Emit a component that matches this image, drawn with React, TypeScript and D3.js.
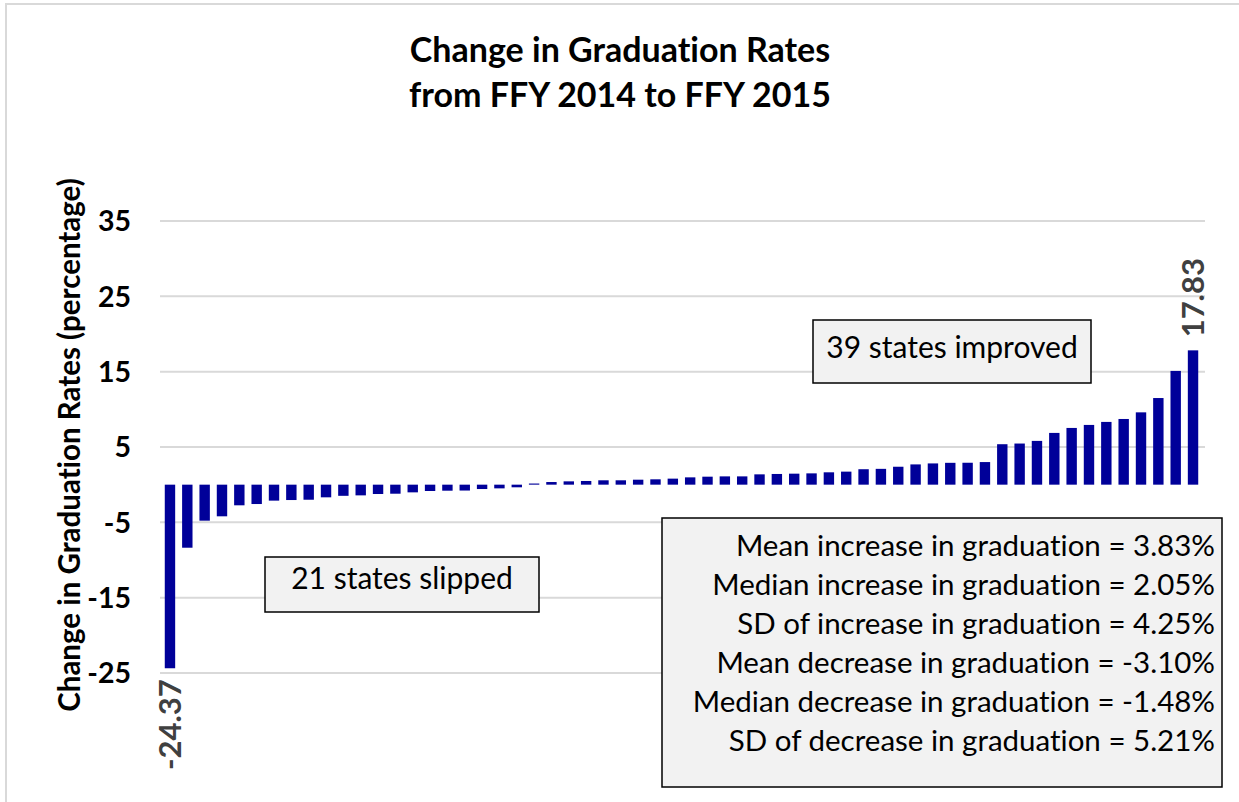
import React, { useEffect } from "react";
import * as d3 from "d3";

const slipped = [
  -24.37, -8.37, -4.78, -4.2, -2.74, -2.57, -2.12, -2.04, -2.0, -1.68, -1.48,
  -1.42, -1.24, -1.2, -1.02, -0.84, -0.8, -0.78, -0.58, -0.49, -0.35,
];
const improved = [
  0.15, 0.35, 0.44, 0.49, 0.58, 0.58, 0.66, 0.71, 0.8, 0.97, 1.06, 1.1, 1.1,
  1.37, 1.42, 1.46, 1.5, 1.64, 1.73, 2.05, 2.1, 2.38, 2.69, 2.82, 2.9, 2.91,
  3.0, 5.37, 5.46, 5.81, 6.87, 7.53, 7.93, 8.33, 8.72, 9.6, 11.5, 15.1, 17.83,
];
const values = [...slipped, ...improved];
const yTicks = [-25, -15, -5, 5, 15, 25, 35];
const titleLines = ["Change in Graduation Rates", "from FFY 2014 to FFY 2015"];
const yAxisTitle = "Change in Graduation Rates (percentage)";
const improvedLabel = "39 states improved";
const slippedLabel = "21 states slipped";
const statLines = [
  "Mean increase in graduation = 3.83%",
  "Median increase in graduation = 2.05%",
  "SD of increase in graduation = 4.25%",
  "Mean decrease in graduation = -3.10%",
  "Median decrease in graduation = -1.48%",
  "SD of decrease in graduation = 5.21%",
];
const labelled = [0, values.length - 1];

const W = 1239;
const H = 802;
const FONT = "Lato, 'Open Sans', sans-serif";

export default function App() {
  useEffect(() => {
    document.body.style.margin = "0";
  }, []);

  const x = d3
    .scaleBand<number>()
    .domain(values.map((_, i) => i))
    .range([161.3, 1201.7])
    .paddingInner(0.4)
    .paddingOuter(0.2);
  const y = d3.scaleLinear().domain([-25, 35]).range([673, 221]);

  return (
    <svg
      width={W}
      height={H}
      style={{ display: "block", fontVariantLigatures: "none" }}
      fontFamily={FONT}
    >
      <rect x={0} y={0} width={W} height={H} fill="#fff" />
      <rect x={6} y={4} width={W + 10} height={H + 10} fill="none" stroke="#d9d9d9" strokeWidth={2} />
      {/* title */}
      <text x={620} textAnchor="middle" fontWeight="bold" fontSize={34} fill="#000">
        <tspan x={620} y={62}>{titleLines[0]}</tspan>
        <tspan x={620} y={107}>{titleLines[1]}</tspan>
      </text>
      {/* gridlines */}
      {yTicks.map((t) => (
        <line key={t} x1={160} x2={1205} y1={y(t)} y2={y(t)} stroke="#d9d9d9" strokeWidth={2} />
      ))}
      {/* y tick labels */}
      {yTicks.map((t) => (
        <text key={t} x={131} y={y(t)} dy="0.36em" textAnchor="end" fontWeight="bold" fontSize={28.5} fill="#000">
          {t}
        </text>
      ))}
      {/* y axis title */}
      <text
        transform={`translate(80,445) rotate(-90)`}
        textAnchor="middle"
        fontWeight="bold"
        fontSize={29.5}
        fill="#000"
      >
        {yAxisTitle}
      </text>
      {/* bars */}
      {values.map((v, i) => (
        <rect
          key={i}
          x={x(i)}
          width={x.bandwidth()}
          y={Math.min(y(v), y(0))}
          height={Math.abs(y(v) - y(0))}
          fill="#000099"
        />
      ))}
      {/* data labels */}
      {labelled.map((i) => {
        const v = values[i];
        const cx = (x(i) as number) + x.bandwidth() / 2;
        const neg = v < 0;
        const yy = neg ? y(v) + 11 : y(v) - 13;
        return (
          <text
            key={i}
            transform={`translate(${cx + 11},${yy}) rotate(-90)`}
            textAnchor={neg ? "end" : "start"}
            fontWeight="bold"
            fontSize={31}
            fill="#404040"
          >
            {v.toFixed(2)}
          </text>
        );
      })}
      {/* annotation boxes */}
      <rect x={813} y={320} width={278} height={63} fill="#f2f2f2" stroke="#000" strokeWidth={1.5} />
      <text x={952} y={358} textAnchor="middle" fontSize={30} fill="#000">{improvedLabel}</text>
      <rect x={265} y={557} width={274} height={55} fill="#f2f2f2" stroke="#000" strokeWidth={1.5} />
      <text x={402} y={589} textAnchor="middle" fontSize={30} fill="#000">{slippedLabel}</text>
      <rect x={662} y={518} width={560} height={269} fill="#f2f2f2" stroke="#000" strokeWidth={1.5} />
      {statLines.map((s, i) => (
        <text key={i} x={1215} y={556 + i * 39} textAnchor="end" fontSize={29.5} fill="#000">
          {s}
        </text>
      ))}
    </svg>
  );
}
